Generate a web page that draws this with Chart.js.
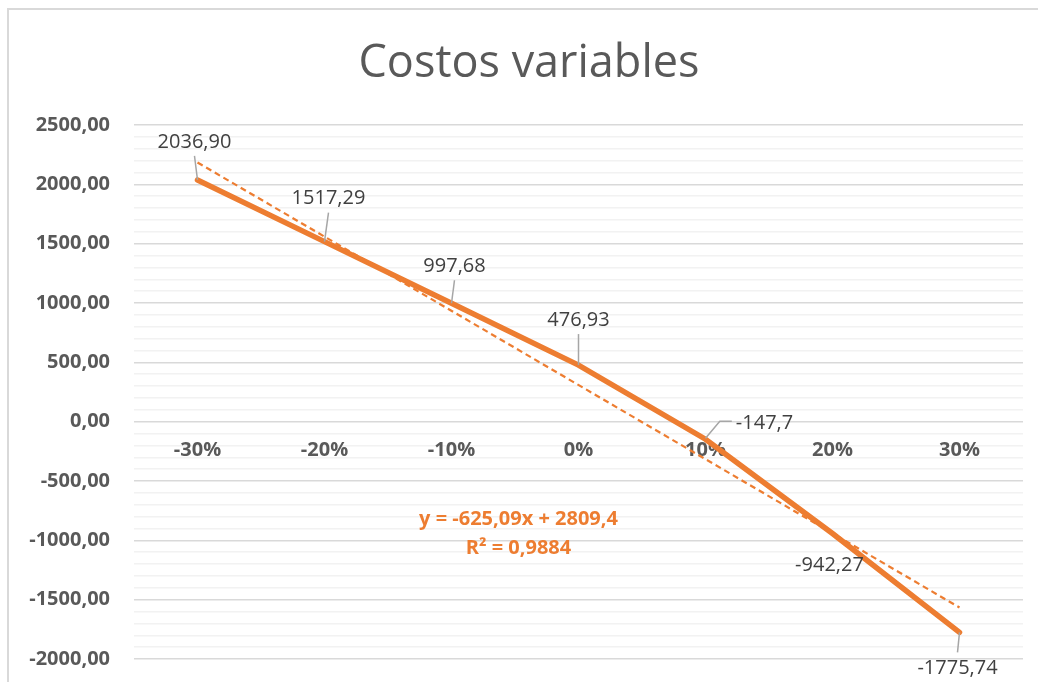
<!DOCTYPE html>
<html>
<head>
<meta charset="utf-8">
<script src="https://cdn.jsdelivr.net/npm/chart.js@4/dist/chart.umd.min.js"></script>
<style>
html,body{margin:0;padding:0;background:#fff;}
#wrap{width:1038px;height:682px;position:relative;}
</style>
</head>
<body>
<div id="wrap"><canvas id="chart" width="1038" height="682"></canvas></div>
<script>
// data
let categories=["-30%","-20%","-10%","0%","10%","20%","30%"];
let costos=[2036.90,1517.29,997.68,476.93,-147.7,-942.27,-1775.74];
let costosLabels=["2036,90","1517,29","997,68","476,93","-147,7","-942,27","-1775,74"];
// linear trendline (only the two ends are needed)
let tendencia=[2184.31,null,null,null,null,null,-1566.23];
let ecuacion=["y = -625,09x + 2809,4","R² = 0,9884"];
let yTicks=[-2000,-1500,-1000,-500,0,500,1000,1500,2000,2500];

let orange="#ED7D31";
let grey="#595959";

// label offsets from the point [dx,dy]
let labelOffsets=[[-3,-38],[4,-43],[3,-37],[0,-45],[59,-16],[-3,32],[-2,36]];

function fmt(v){
return v.toFixed(2).replace(".",",");
}

let extras={
id:"extras",
beforeDraw(chart){
let ctx=chart.ctx;
ctx.save();
ctx.fillStyle="#fff";
ctx.fillRect(0,0,chart.width,chart.height);
ctx.strokeStyle="#d9d9d9";
ctx.lineWidth=2;
ctx.beginPath();
ctx.moveTo(8,682);
ctx.lineTo(8,9);
ctx.lineTo(1038,9);
ctx.stroke();
ctx.fillStyle=grey;
ctx.font="45px 'Open Sans'";
ctx.textAlign="center";
ctx.textBaseline="middle";
ctx.fillText("Costos variables",529,64);
ctx.restore();
},
afterDatasetsDraw(chart){
let ctx=chart.ctx;
let meta=chart.getDatasetMeta(0);
ctx.save();
ctx.font="20px 'Open Sans'";
ctx.textAlign="center";
ctx.textBaseline="middle";
meta.data.forEach(function(pt,i){
let off=labelOffsets[i];
let lx=pt.x+off[0];
let ly=pt.y+off[1];
let w=ctx.measureText(costosLabels[i]).width;
ctx.strokeStyle="#a6a6a6";
ctx.lineWidth=1.5;
ctx.beginPath();
if(Math.abs(off[0])>30){
ctx.moveTo(lx-w/2-4,ly-2);
ctx.lineTo(lx-w/2-16,ly-2);
ctx.lineTo(pt.x,pt.y-1);
ctx.stroke();
}
else if(Math.abs(off[1])>33){
let sy=off[1]<0 ? ly+14 : ly-16;
ctx.moveTo(lx,sy);
ctx.lineTo(pt.x,pt.y);
ctx.stroke();
}
ctx.fillStyle="#404040";
ctx.fillText(costosLabels[i],lx,ly);
});
// trendline equation
let xs=chart.scales.x;
let cx=(xs.getPixelForValue(2)+xs.getPixelForValue(4))/2-60;
ctx.fillStyle=orange;
ctx.font="bold 20px 'Open Sans'";
ctx.fillText(ecuacion[0],cx,519);
ctx.fillText(ecuacion[1],cx,548);
ctx.restore();
}
};

new Chart(document.getElementById("chart"),{
type:"line",
data:{
labels:categories,
datasets:[{
label:"Costos variables",
data:costos,
borderColor:orange,
borderWidth:5.5,
pointRadius:0,
fill:false,
tension:0,
borderCapStyle:"round",
order:1
},{
label:"Lineal",
data:tendencia,
borderColor:orange,
borderWidth:2.2,
borderDash:[6,4],
pointRadius:0,
spanGaps:true,
fill:false,
order:2
}]
},
options:{
responsive:false,
animation:false,
layout:{padding:{top:125,left:0,right:15,bottom:23}},
plugins:{
legend:{display:false},
tooltip:{enabled:false}
},
scales:{
x:{
position:{y:0},
offset:true,
grid:{display:false,drawTicks:false},
border:{display:false},
ticks:{
color:grey,
font:{family:"Open Sans",size:20,weight:"bold"},
padding:17,
maxRotation:0
}
},
y:{
min:yTicks[0],
max:yTicks[yTicks.length-1],
afterFit(scale){scale.width=134;scale.paddingTop=0;scale.paddingBottom=0;},
border:{display:false},
grid:{
drawTicks:false,
lineWidth:1.5,
color(c){return c.tick && c.tick.value%500===0 ? "#d9d9d9" : "#f2f2f2";}
},
ticks:{
stepSize:100,
autoSkip:false,
padding:24,
color:grey,
font:{family:"Open Sans",size:20,weight:"bold"},
callback(v){return yTicks.indexOf(v)>=0 ? fmt(v) : "";}
}
}
}
},
plugins:[extras]
});
</script>
</body>
</html>
